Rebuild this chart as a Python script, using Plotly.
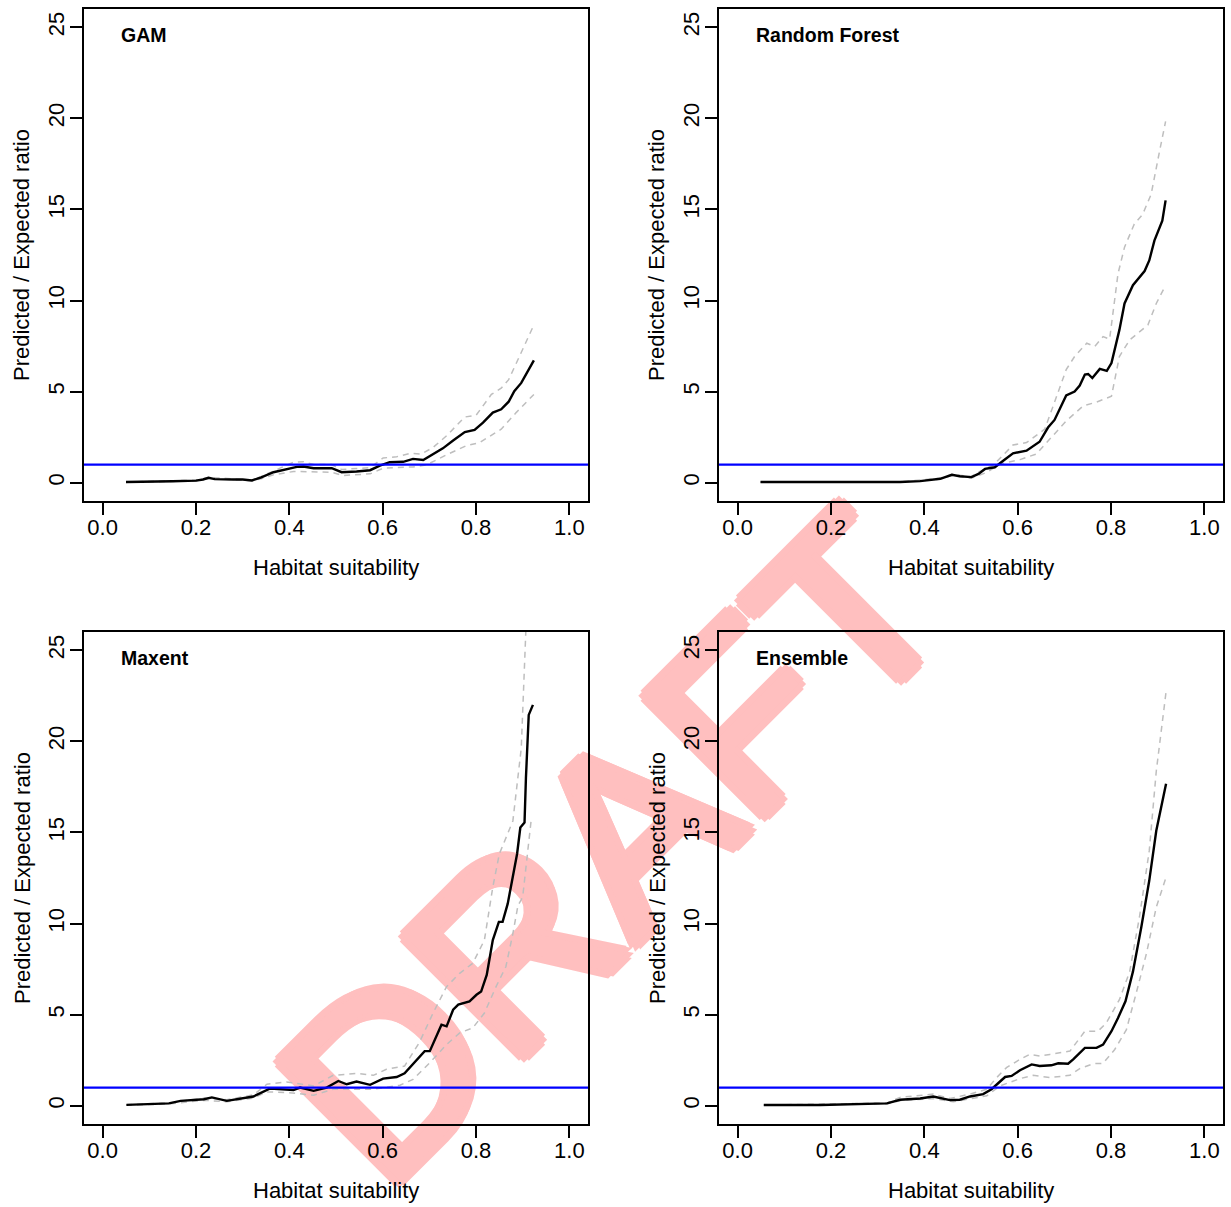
import plotly.graph_objects as go

# ---------------- data ----------------
panel_titles = ["GAM", "Random Forest", "Maxent", "Ensemble"]
x_label = "Habitat suitability"
y_label = "Predicted / Expected ratio"
ref_ratio = 1.0
x_ticks = [0.0, 0.2, 0.4, 0.6, 0.8, 1.0]
x_tick_text = ["0.0", "0.2", "0.4", "0.6", "0.8", "1.0"]
y_ticks = [0, 5, 10, 15, 20, 25]

# GAM
gam_x = [0.05, 0.10, 0.15, 0.20, 0.215, 0.227, 0.24, 0.28, 0.30, 0.32, 0.34, 0.366, 0.38, 0.395, 0.416, 0.43,
         0.452, 0.491, 0.512, 0.544, 0.573, 0.594, 0.615, 0.644, 0.665, 0.687, 0.708, 0.729, 0.751, 0.776,
         0.797, 0.815, 0.836, 0.854, 0.870, 0.882, 0.897, 0.907, 0.924]
gam_y = [0.04, 0.05, 0.08, 0.12, 0.18, 0.27, 0.20, 0.18, 0.18, 0.13, 0.30, 0.58, 0.66, 0.71, 0.87, 0.89,
         0.80, 0.80, 0.58, 0.62, 0.69, 0.94, 1.13, 1.15, 1.31, 1.25, 1.58, 1.89, 2.32, 2.78,
         2.90, 3.30, 3.85, 4.03, 4.45, 5.03, 5.48, 5.94, 6.72]
gam_up_x = [0.05, 0.20, 0.227, 0.32, 0.34, 0.366, 0.409, 0.43, 0.452, 0.49, 0.512, 0.573, 0.601, 0.63, 0.658,
            0.683, 0.708, 0.737, 0.776, 0.80, 0.833, 0.854, 0.870, 0.893, 0.924]
gam_up_y = [0.04, 0.14, 0.30, 0.15, 0.35, 0.65, 1.13, 1.16, 1.00, 1.00, 0.73, 0.83, 1.36, 1.43, 1.61,
            1.58, 1.94, 2.58, 3.61, 3.70, 4.85, 5.19, 5.66, 6.93, 8.66]
gam_lo_x = [0.05, 0.20, 0.227, 0.32, 0.34, 0.366, 0.409, 0.452, 0.49, 0.515, 0.573, 0.601, 0.665, 0.694,
            0.737, 0.779, 0.808, 0.854, 0.886, 0.924]
gam_lo_y = [0.03, 0.10, 0.24, 0.11, 0.22, 0.44, 0.62, 0.58, 0.58, 0.40, 0.49, 0.80, 0.87, 0.98,
            1.54, 2.03, 2.21, 2.94, 3.85, 4.85]

# Random Forest
rf_x = [0.049, 0.20, 0.348, 0.391, 0.434, 0.459, 0.476, 0.501, 0.516, 0.530, 0.551, 0.569, 0.590, 0.619,
        0.647, 0.665, 0.679, 0.704, 0.722, 0.733, 0.744, 0.751, 0.760, 0.776, 0.791, 0.801, 0.818, 0.829,
        0.847, 0.872, 0.882, 0.893, 0.910, 0.917]
rf_y = [0.04, 0.04, 0.04, 0.09, 0.22, 0.44, 0.36, 0.31, 0.49, 0.76, 0.85, 1.21, 1.62, 1.76,
        2.25, 3.03, 3.45, 4.79, 5.01, 5.34, 5.94, 5.97, 5.75, 6.25, 6.14, 6.57, 8.39, 9.84,
        10.84, 11.62, 12.20, 13.29, 14.38, 15.50]
rf_up_x = [0.049, 0.348, 0.434, 0.459, 0.50, 0.519, 0.548, 0.590, 0.619, 0.658, 0.676, 0.704, 0.722, 0.748,
           0.765, 0.783, 0.797, 0.815, 0.829, 0.850, 0.868, 0.886, 0.904, 0.917]
rf_up_y = [0.04, 0.05, 0.25, 0.47, 0.33, 0.62, 0.98, 2.07, 2.21, 2.94, 4.21, 6.21, 6.93, 7.66,
           7.48, 8.02, 7.88, 11.47, 12.93, 14.20, 14.74, 15.83, 18.19, 19.83]
rf_lo_x = [0.049, 0.348, 0.434, 0.459, 0.50, 0.535, 0.562, 0.605, 0.640, 0.669, 0.704, 0.740, 0.769, 0.801,
           0.818, 0.840, 0.879, 0.897, 0.917]
rf_lo_y = [0.03, 0.03, 0.20, 0.40, 0.25, 0.58, 1.03, 1.27, 1.58, 2.40, 3.39, 4.21, 4.43, 4.75,
           6.93, 7.84, 8.66, 9.84, 10.84]

# Maxent
mx_x = [0.051, 0.142, 0.167, 0.217, 0.234, 0.266, 0.323, 0.359, 0.409, 0.423, 0.452, 0.480, 0.505, 0.523,
        0.544, 0.573, 0.601, 0.630, 0.647, 0.676, 0.690, 0.701, 0.726, 0.737, 0.751, 0.762, 0.786, 0.801,
        0.811, 0.823, 0.836, 0.849, 0.857, 0.868, 0.879, 0.888, 0.895, 0.904, 0.907, 0.913, 0.922]
mx_y = [0.05, 0.13, 0.27, 0.36, 0.46, 0.27, 0.51, 0.95, 0.86, 1.00, 0.82, 1.00, 1.36, 1.18,
        1.33, 1.15, 1.49, 1.58, 1.78, 2.58, 3.00, 3.00, 4.45, 4.36, 5.27, 5.55, 5.73, 6.09,
        6.27, 7.18, 9.09, 10.09, 10.09, 11.09, 12.54, 13.82, 15.27, 15.54, 17.99, 21.45, 22.00]
mx_up_x = [0.05, 0.14, 0.217, 0.266, 0.323, 0.352, 0.394, 0.452, 0.494, 0.544, 0.580, 0.608, 0.647, 0.679,
           0.708, 0.737, 0.765, 0.793, 0.818, 0.836, 0.850, 0.879, 0.897, 0.909]
mx_up_y = [0.06, 0.15, 0.42, 0.33, 0.60, 1.18, 1.31, 1.09, 1.67, 1.78, 1.67, 2.00, 2.18, 3.49,
           5.09, 6.54, 7.27, 7.82, 9.09, 12.00, 13.82, 15.63, 19.63, 27.50]
mx_lo_x = [0.05, 0.14, 0.217, 0.266, 0.323, 0.352, 0.394, 0.452, 0.494, 0.580, 0.637, 0.665, 0.701, 0.737,
           0.765, 0.793, 0.818, 0.843, 0.864, 0.879, 0.890, 0.900, 0.918]
mx_lo_y = [0.03, 0.10, 0.30, 0.22, 0.42, 0.76, 0.73, 0.58, 0.91, 0.91, 1.13, 1.45, 2.36, 3.36,
           4.00, 4.27, 5.09, 6.54, 7.63, 9.45, 11.00, 11.45, 15.63]

# Ensemble
en_x = [0.056, 0.177, 0.320, 0.348, 0.391, 0.419, 0.455, 0.476, 0.498, 0.526, 0.544, 0.562, 0.573, 0.587,
        0.605, 0.630, 0.647, 0.672, 0.687, 0.708, 0.719, 0.744, 0.769, 0.783, 0.801, 0.815, 0.831, 0.847,
        0.865, 0.882, 0.897, 0.918]
en_y = [0.04, 0.04, 0.13, 0.33, 0.40, 0.51, 0.31, 0.33, 0.51, 0.64, 0.91, 1.36, 1.58, 1.64,
        1.95, 2.27, 2.18, 2.22, 2.33, 2.31, 2.55, 3.18, 3.18, 3.36, 4.09, 4.82, 5.73, 7.36,
        9.81, 12.36, 15.09, 17.67]
en_up_x = [0.056, 0.320, 0.348, 0.419, 0.455, 0.498, 0.534, 0.555, 0.576, 0.605, 0.626, 0.647, 0.669, 0.712,
           0.744, 0.772, 0.790, 0.818, 0.840, 0.861, 0.882, 0.897, 0.918]
en_up_y = [0.04, 0.15, 0.46, 0.64, 0.40, 0.64, 0.91, 1.55, 2.09, 2.55, 2.82, 2.73, 2.82, 3.00,
           4.09, 4.09, 4.55, 5.82, 7.36, 10.36, 14.00, 18.36, 22.72]
en_lo_x = [0.056, 0.320, 0.348, 0.419, 0.462, 0.498, 0.534, 0.562, 0.605, 0.633, 0.669, 0.712, 0.733, 0.762,
           0.783, 0.808, 0.833, 0.854, 0.876, 0.897, 0.918]
en_lo_y = [0.03, 0.11, 0.28, 0.40, 0.22, 0.38, 0.55, 1.09, 1.49, 1.67, 1.55, 1.67, 2.04, 2.31,
           2.33, 3.09, 4.18, 6.18, 8.36, 10.90, 12.54]

panels = [
    (gam_x, gam_y, gam_up_x, gam_up_y, gam_lo_x, gam_lo_y),
    (rf_x, rf_y, rf_up_x, rf_up_y, rf_lo_x, rf_lo_y),
    (mx_x, mx_y, mx_up_x, mx_up_y, mx_lo_x, mx_lo_y),
    (en_x, en_y, en_up_x, en_up_y, en_lo_x, en_lo_y),
]

# ---------------- layout geometry ----------------
W, H = 1231, 1207
FONT = "Liberation Sans, Arial, Helvetica, sans-serif"
box_x = [(84, 588), (719, 1223), (84, 588), (719, 1223)]
box_y = [(9, 501), (9, 501), (632, 1124), (632, 1124)]

fig = go.Figure()
layout = dict(
    width=W, height=H, margin=dict(l=0, r=0, t=0, b=0),
    paper_bgcolor="white", plot_bgcolor="white",
    showlegend=False, font=dict(family=FONT, color="black", size=22),
)

annotations = []
shapes = []
for i, (px, py, ux, uy, lx, ly) in enumerate(panels):
    n = "" if i == 0 else str(i + 1)
    xa, ya = "x" + n, "y" + n
    x0, x1 = box_x[i]
    y0, y1 = box_y[i]
    layout["xaxis" + n] = dict(
        domain=[x0 / W, x1 / W], anchor=ya, range=[-0.04, 1.04],
        tickvals=x_ticks, ticktext=x_tick_text, ticks="outside", ticklen=12, tickwidth=1.6,
        tickcolor="black", showline=True, linewidth=1.6, linecolor="black", mirror=True,
        showgrid=False, zeroline=False, tickfont=dict(size=22, family=FONT, color="black"),
        ticklabelstandoff=-6,
    )
    layout["yaxis" + n] = dict(
        domain=[1 - y1 / H, 1 - y0 / H], anchor=xa, range=[-1, 26],
        tickvals=y_ticks, ticks="outside", ticklen=12, tickwidth=1.6, tickangle=-90,
        tickcolor="black", showline=True, linewidth=1.6, linecolor="black", mirror=True,
        showgrid=False, zeroline=False, tickfont=dict(size=22, family=FONT, color="black"),
        ticklabelstandoff=-3,
    )
    fig.add_trace(go.Scatter(x=ux, y=uy, mode="lines", xaxis=xa, yaxis=ya,
                             line=dict(color="#BEBEBE", width=1.5, dash="6px,5px")))
    fig.add_trace(go.Scatter(x=lx, y=ly, mode="lines", xaxis=xa, yaxis=ya,
                             line=dict(color="#BEBEBE", width=1.5, dash="6px,5px")))
    fig.add_trace(go.Scatter(x=px, y=py, mode="lines", xaxis=xa, yaxis=ya,
                             line=dict(color="black", width=2.4)))
    shapes.append(dict(type="line", xref=xa + " domain", yref=ya, x0=0, x1=1,
                       y0=ref_ratio, y1=ref_ratio, line=dict(color="#0000FF", width=2.2), layer="above"))
    # panel label
    annotations.append(dict(text="<b>%s</b>" % panel_titles[i], xref=xa, yref=ya, x=0.036, y=24.6,
                            xanchor="left", yanchor="middle", showarrow=False,
                            font=dict(size=19.5, family=FONT, color="black")))
    # axis titles
    annotations.append(dict(text=x_label, xref="paper", yref="paper", x=(x0 + x1) / 2 / W,
                            y=1 - (y1 + 66) / H, xanchor="center", yanchor="middle", showarrow=False,
                            font=dict(size=22, family=FONT, color="black")))
    annotations.append(dict(text=y_label, xref="paper", yref="paper", x=(x0 - 62) / W,
                            y=1 - (y0 + y1) / 2 / H, xanchor="center", yanchor="middle", showarrow=False,
                            textangle=-90, font=dict(size=22, family=FONT, color="black")))

# watermark below everything
cx, cy = 597 / W, 1 - 830 / H
pink = "#FFBFBF"
r = 7
shadow = ", ".join("%dpx %dpx 0 %s" % (dx, dy, pink) for dx, dy in
                   [(r, 0), (-r, 0), (0, r), (0, -r), (5, 5), (5, -5), (-5, 5), (-5, -5)])
shapes.append(dict(type="rect", xref="paper", yref="paper", x0=cx - 0.001, x1=cx + 0.001,
                   y0=cy - 0.001, y1=cy + 0.001, line=dict(width=0), fillcolor="rgba(0,0,0,0)",
                   layer="below",
                   label=dict(text="DRAFT", textangle=-45, textposition="middle center",
                              font=dict(size=245, color=pink, family=FONT, shadow=shadow))))

layout["annotations"] = annotations
layout["shapes"] = shapes
fig.update_layout(**layout)
fig.write_html("out.html", config={"displayModeBar": False},
               post_script="document.body.style.margin='0px';")
